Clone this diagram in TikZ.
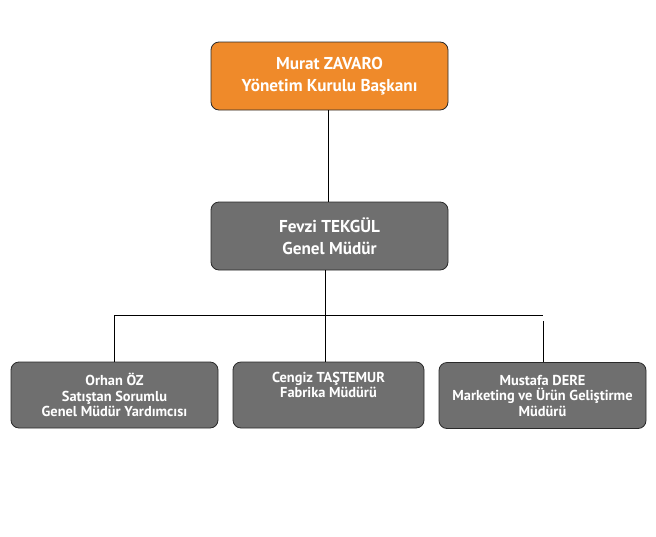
\documentclass[tikz,border=0pt]{standalone}
\usepackage{fontspec}
\setmainfont{PT Sans}
\definecolor{orgbox}{HTML}{EF8A2A}
\definecolor{graybox}{HTML}{6F6F6F}
\definecolor{edgecol}{HTML}{2A2A2A}
\begin{document}
\begin{tikzpicture}[x=1pt,y=-1pt,
  box/.style={draw=edgecol,line width=0.8pt,rounded corners=8pt,text=white,font=\bfseries,align=center,inner sep=0pt},
  bigbox/.style={box,minimum width=237pt,minimum height=68pt,font=\bfseries\fontsize{17.2}{22}\selectfont},
  smallbox/.style={box,minimum height=66pt,font=\bfseries\fontsize{14.4}{15.5}\selectfont},
  link/.style={draw=black,line width=0.8pt}]
\useasboundingbox (0,0) rectangle (656,536);
\node[bigbox,fill=orgbox] (top) at (329.5,76) {Murat ZAVARO\\Yönetim Kurulu Başkanı};
\node[bigbox,fill=graybox] (gm) at (329.5,236) {Fevzi TEKGÜL\\Genel Müdür};
\node[smallbox,fill=graybox,minimum width=207pt] (b1) at (114.5,395) {Orhan ÖZ\\Satıştan Sorumlu\\Genel Müdür Yardımcısı};
\node[smallbox,fill=graybox,minimum width=191pt] (b2) at (328.5,395) {Cengiz TAŞTEMUR\\Fabrika Müdürü\\\strut};
\node[smallbox,fill=graybox,minimum width=207pt] (b3) at (542.5,395.5) {Mustafa DERE\\Marketing ve Ürün Geliştirme\\Müdürü};
\coordinate (j) at (325,315);
\coordinate (jl) at (114,315);
\coordinate (jr) at (543,315);
\coordinate (jr2) at (543,321);
\draw[link] (top.south -| 328,0) -- (gm.north -| 328,0);
\draw[link] (gm.south -| j) -- (j);
\draw[link] (jl) -- (jr);
\draw[link] (jl) -- (b1.north -| jl);
\draw[link] (j) -- (b2.north -| j);
\draw[link] (jr2) -- (b3.north -| jr2);
\end{tikzpicture}
\end{document}
